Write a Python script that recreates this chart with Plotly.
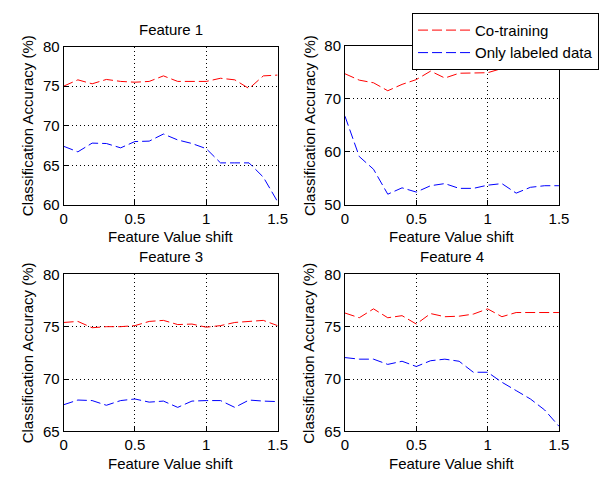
import plotly.graph_objects as go

shift = [0.0, 0.1, 0.2, 0.3, 0.4, 0.5, 0.6, 0.7, 0.8, 0.9, 1.0, 1.1, 1.2, 1.3, 1.4, 1.5]

f1_cotrain = [75.0, 75.8, 75.3, 75.85, 75.6, 75.5, 75.6, 76.3, 75.6, 75.6, 75.6, 76.0, 75.8, 74.7, 76.3, 76.4]
f1_labeled = [67.4, 66.7, 67.8, 67.75, 67.2, 68.0, 68.05, 68.95, 68.2, 67.75, 67.1, 65.3, 65.3, 65.3, 63.5, 60.4]

f2_cotrain = [74.7, 73.5, 73.0, 71.5, 72.7, 73.6, 75.2, 73.9, 74.8, 74.8, 74.9, 75.7, 75.8, 76.1, 76.1, 75.7]
f2_labeled = [66.7, 59.1, 56.7, 52.0, 53.2, 52.4, 53.6, 54.0, 53.1, 53.1, 53.7, 54.0, 52.2, 53.3, 53.6, 53.6]

f3_cotrain = [75.4, 75.5, 74.9, 75.0, 75.0, 75.1, 75.5, 75.6, 75.2, 75.25, 74.95, 75.1, 75.4, 75.5, 75.6, 75.1]
f3_labeled = [67.55, 68.0, 67.95, 67.5, 67.95, 68.1, 67.8, 67.9, 67.3, 67.9, 67.95, 67.95, 67.3, 68.0, 67.9, 67.85]

f4_cotrain = [76.3, 75.85, 76.7, 75.85, 76.05, 75.25, 76.25, 75.95, 76.0, 76.2, 76.7, 75.95, 76.35, 76.35, 76.35, 76.35]
f4_labeled = [72.05, 71.9, 71.9, 71.4, 71.7, 71.2, 71.75, 71.9, 71.7, 70.65, 70.65, 69.7, 68.9, 68.1, 67.05, 65.5]

# "Feature 2" title is hidden behind the legend in the reference
titles = ["Feature 1", "", "Feature 3", "Feature 4"]
series_names = ["Co-training", "Only labeled data"]
x_ticks = [0, 0.5, 1, 1.5]
x_tick_text = ["0", "0.5", "1", "1.5"]
y_ranges = [[60, 80], [50, 80], [65, 80], [65, 80]]
y_ticks = [[60, 65, 70, 75, 80], [50, 60, 70, 80], [65, 70, 75, 80], [65, 70, 75, 80]]
x_label = "Feature Value shift"
y_label = "Classification Accuracy (%)"

W, H = 610, 480
FONT = dict(family="Liberation Sans, Arial, sans-serif", size=15, color="black")
TICKFONT = dict(family="Liberation Sans, Arial, sans-serif", size=15, color="black")

# pixel boxes (left, right, top, bottom)
boxes = [(61, 280, 39, 203), (349, 568, 38, 203), (61, 280, 275, 438), (349, 568, 275, 438)]

data = [(f1_cotrain, f1_labeled), (f2_cotrain, f2_labeled),
        (f3_cotrain, f3_labeled), (f4_cotrain, f4_labeled)]

fig = go.Figure()
layout = dict(width=W, height=H, margin=dict(l=0, r=0, t=0, b=0),
              paper_bgcolor="white", plot_bgcolor="white", font=FONT,
              showlegend=True)
annotations = []
for i, (box, (co, lab)) in enumerate(zip(boxes, data)):
    l, r, t, b = box
    xa = "xaxis" if i == 0 else f"xaxis{i+1}"
    ya = "yaxis" if i == 0 else f"yaxis{i+1}"
    xr = "x" if i == 0 else f"x{i+1}"
    yr = "y" if i == 0 else f"y{i+1}"
    fig.add_trace(go.Scatter(x=shift, y=co, mode="lines", name=series_names[0],
                             line=dict(color="#ff0000", width=1, dash="10px,4px"),
                             xaxis=xr, yaxis=yr, showlegend=(i == 0)))
    fig.add_trace(go.Scatter(x=shift, y=lab, mode="lines", name=series_names[1],
                             line=dict(color="#0000ff", width=1, dash="10px,4px"),
                             xaxis=xr, yaxis=yr, showlegend=(i == 0)))
    common = dict(showline=True, linecolor="black", linewidth=1, mirror=True,
                  ticks="inside", ticklen=5, tickcolor="black",
                  showgrid=True, gridcolor="black", gridwidth=1, griddash="1px,3px",
                  zeroline=False, tickfont=TICKFONT)
    layout[xa] = dict(domain=[l / W, r / W], range=[0, 1.5], tickvals=x_ticks,
                      ticktext=x_tick_text, anchor=yr, **common)
    layout[ya] = dict(domain=[1 - b / H, 1 - t / H], range=y_ranges[i],
                      tickvals=y_ticks[i], anchor=xr, **common)
    cx = (l + r) / 2
    if titles[i]:
        annotations.append(dict(text=titles[i], x=cx / W, y=1 - (t - 18) / H, xref="paper",
                                yref="paper", showarrow=False, xanchor="center",
                                yanchor="middle", font=FONT))
    annotations.append(dict(text=x_label, x=cx / W, y=1 - (b + 33) / H, xref="paper",
                            yref="paper", showarrow=False, xanchor="center",
                            yanchor="middle", font=FONT))
    annotations.append(dict(text=y_label, x=(l - 37) / W, y=1 - ((t + b) / 2) / H,
                            xref="paper", yref="paper", showarrow=False, textangle=-90,
                            xanchor="center", yanchor="middle", font=FONT))

layout["annotations"] = annotations
layout["legend"] = dict(x=609 / W, xanchor="right", y=1 - 4 / H, yanchor="top",
                        bgcolor="white", bordercolor="black", borderwidth=1,
                        font=FONT, itemwidth=52, tracegroupgap=0)
fig.update_layout(**layout)
fig.write_html("out.html", config={"displayModeBar": False},
               post_script="document.body.style.margin='0px';document.body.style.overflow='hidden';")
